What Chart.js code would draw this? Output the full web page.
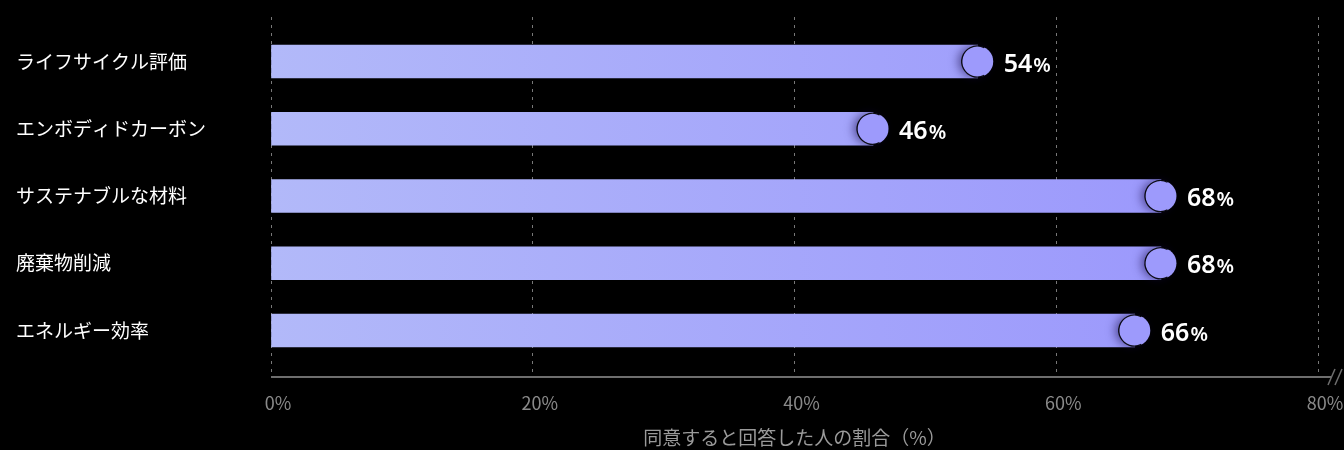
<!DOCTYPE html>
<html lang="ja">
<head>
<meta charset="utf-8">
<title>chart</title>
<script src="https://cdn.jsdelivr.net/npm/chart.js@4.4.1/dist/chart.umd.min.js"></script>
<style>
    html, body { margin: 0; padding: 0; background: #000; }
    canvas { display: block; }
</style>
</head>
<body>
<canvas id="myChart" width="1344" height="450"></canvas>
<script>
const categories = ['ライフサイクル評価', 'エンボディドカーボン', 'サステナブルな材料', '廃棄物削減', 'エネルギー効率'];
const values = [54, 46, 68, 68, 66];
const xTicks = [0, 20, 40, 60, 80];
const xTitle = '同意すると回答した人の割合（%）';

const jpFont = '"Noto Sans CJK JP", "Noto Sans", sans-serif';

// marker circle + value label at the end of each bar, plus axis break mark
const barEnds = {
    id: 'barEnds',
    afterDatasetsDraw(chart) {
        const ctx = chart.ctx;
        const meta = chart.getDatasetMeta(0);
        meta.data.forEach(function (bar, i) {
            const r = 15.5;
            ctx.save();
            ctx.shadowColor = 'rgba(20, 10, 70, 0.55)';
            ctx.shadowBlur = 10;
            ctx.shadowOffsetX = -4;
            ctx.beginPath();
            ctx.arc(bar.x, bar.y, r, 0, Math.PI * 2);
            ctx.fillStyle = '#9d9afc';
            ctx.fill();
            ctx.restore();

            ctx.save();
            ctx.beginPath();
            ctx.arc(bar.x - 0.5, bar.y, r, Math.PI * 0.35, Math.PI * 1.65);
            ctx.strokeStyle = 'rgba(0, 0, 0, 0.9)';
            ctx.lineWidth = 1.3;
            ctx.stroke();
            ctx.restore();

            // value label
            ctx.save();
            ctx.fillStyle = '#fff';
            ctx.textBaseline = 'alphabetic';
            ctx.textAlign = 'left';
            const num = String(values[i]);
            ctx.font = '600 25px "Noto Sans", sans-serif';
            const x0 = bar.x + 26;
            const base = bar.y + 10;
            ctx.fillText(num, x0, base);
            const w = ctx.measureText(num).width;
            ctx.font = '600 20px "Noto Sans", sans-serif';
            ctx.fillText('%', x0 + w + 1, base);
            ctx.restore();
        });

        // axis extension and break mark
        const xs = chart.scales.x;
        const yb = chart.chartArea.bottom;
        ctx.save();
        ctx.strokeStyle = '#6e6e6e';
        ctx.lineWidth = 2;
        ctx.beginPath();
        ctx.moveTo(xs.right, yb);
        ctx.lineTo(xs.right + 13, yb);
        ctx.stroke();
        ctx.lineWidth = 1.5;
        ctx.beginPath();
        ctx.moveTo(xs.right + 10, yb + 8);
        ctx.lineTo(xs.right + 17, yb - 8);
        ctx.moveTo(xs.right + 17, yb + 8);
        ctx.lineTo(xs.right + 24, yb - 8);
        ctx.stroke();
        ctx.restore();
    }
};

// solid axis line drawn over the dashed grid
const axisLine = {
    id: 'axisLine',
    beforeDatasetsDraw(chart) {
        const a = chart.chartArea;
        const ctx = chart.ctx;
        ctx.save();
        ctx.strokeStyle = '#6e6e6e';
        ctx.lineWidth = 2;
        ctx.beginPath();
        ctx.moveTo(a.left, a.bottom);
        ctx.lineTo(a.right, a.bottom);
        ctx.stroke();
        ctx.restore();
    }
};

const ctx = document.getElementById('myChart');

const myChart = new Chart(ctx, {
    type: 'bar',
    data: {
        datasets: [{
            data: categories.map(function (c, i) { return { x: values[i], y: i }; }),
            backgroundColor: function (context) {
                const area = context.chart.chartArea;
                if (!area) return '#a5a8fb';
                const g = context.chart.ctx.createLinearGradient(area.left, 0, area.right, 0);
                g.addColorStop(0, '#b2b9f9');
                g.addColorStop(0.85, '#9c99fc');
                g.addColorStop(1, '#9a97fc');
                return g;
            },
            borderWidth: 0,
            barThickness: 33
        }]
    },
    options: {
        indexAxis: 'y',
        responsive: false,
        animation: false,
        layout: {
            padding: { top: 17, right: 26, left: 16, bottom: 0 }
        },
        plugins: {
            legend: { display: false },
            tooltip: { enabled: false }
        },
        scales: {
            x: {
                type: 'linear',
                min: xTicks[0],
                max: xTicks[xTicks.length - 1],
                afterBuildTicks: function (scale) {
                    scale.ticks = xTicks.map(function (v) { return { value: v }; });
                },
                afterFit: function (scale) {
                    scale.height = 73;
                    scale.paddingLeft = 0;
                    scale.paddingRight = 0;
                },
                grid: {
                    color: 'rgba(150, 150, 150, 0.8)',
                    lineWidth: 1,
                    drawTicks: false
                },
                border: { display: false, dash: [3, 5] },
                ticks: {
                    color: '#8a8a8a',
                    font: { family: jpFont, size: 18 },
                    padding: 15,
                    labelOffset: 7,
                    maxRotation: 0,
                    callback: function (v) { return v + '%'; }
                },
                title: {
                    display: true,
                    text: xTitle,
                    color: '#9a9a9a',
                    font: { family: jpFont, size: 19 },
                    padding: { top: 0, bottom: 1 }
                }
            },
            y: {
                type: 'linear',
                reverse: true,
                offset: false,
                min: -0.662,
                max: 4.691,
                afterBuildTicks: function (scale) {
                    scale.ticks = categories.map(function (c, i) { return { value: i }; });
                },
                afterFit: function (scale) {
                    scale.width = 255;
                    scale.paddingTop = 0;
                    scale.paddingBottom = 0;
                },
                grid: { display: false },
                border: { display: false },
                ticks: {
                    color: '#ffffff',
                    font: { family: jpFont, size: 19 },
                    crossAlign: 'far',
                    padding: 16,
                    autoSkip: false,
                    callback: function (v) { return categories[v]; }
                }
            }
        }
    },
    plugins: [axisLine, barEnds]
});
</script>
</body>
</html>
